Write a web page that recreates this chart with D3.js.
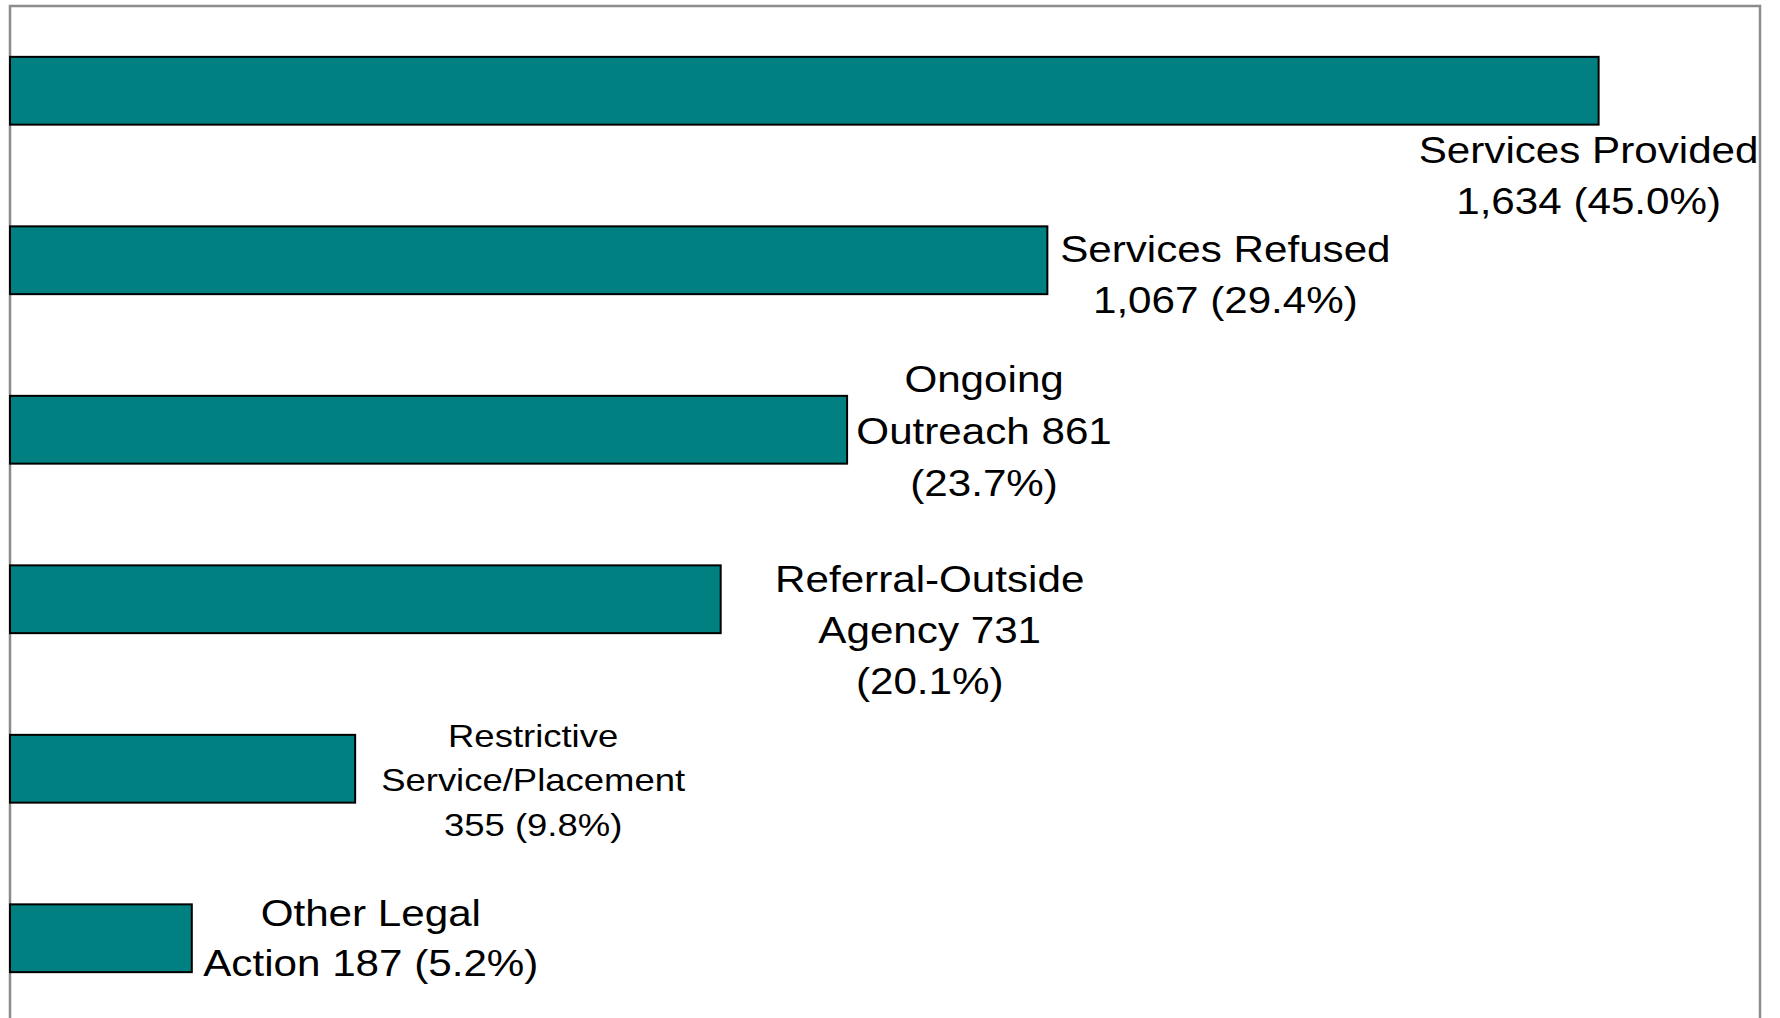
<!DOCTYPE html>
<html>
<head>
<meta charset="utf-8">
<script src="https://cdn.jsdelivr.net/npm/d3@7"></script>
<style>
  html, body { margin: 0; padding: 0; background: #fff; }
  svg { display: block; }
</style>
</head>
<body>
<div id="chart"></div>
<script>
// data
var categories = ['Services Provided', 'Services Refused', 'Ongoing Outreach', 'Referral-Outside Agency', 'Restrictive Service/Placement', 'Other Legal Action'];
var values = [1634, 1067, 861, 731, 355, 187];
var labelLines = [
  ['Services Provided', '1,634 (45.0%)'],
  ['Services Refused', '1,067 (29.4%)'],
  ['Ongoing', 'Outreach 861', '(23.7%)'],
  ['Referral-Outside', 'Agency 731', '(20.1%)'],
  ['Restrictive', 'Service/Placement', '355 (9.8%)'],
  ['Other Legal', 'Action 187 (5.2%)']
];

// label placement (center x from bar end, first baseline from bar middle)
var labelLayout = [
  {dx: -10, dy: 72, size: 37, lh: 51},
  {dx: 178, dy: 2, size: 37, lh: 51},
  {dx: 137, dy: -38, size: 37, lh: 52},
  {dx: 209, dy: -7, size: 37, lh: 51},
  {dx: 178, dy: -22, size: 32, lh: 44.5},
  {dx: 179, dy: -12, size: 37, lh: 50}
];

var width = 1780, height = 1018;
var plot = {left: 10, right: 1760, top: 6, bottom: 1023};

var svg = d3.select('#chart').append('svg')
  .attr('width', width)
  .attr('height', height);

var x = d3.scaleLinear()
  .domain([0, 1800])
  .range([plot.left, plot.right]);

var y = d3.scaleBand()
  .domain(categories)
  .range([plot.top, plot.bottom])
  .paddingInner(0.6)
  .paddingOuter(0.3);

// plot area frame
svg.append('rect')
  .attr('x', plot.left)
  .attr('y', plot.top)
  .attr('width', plot.right - plot.left)
  .attr('height', plot.bottom - plot.top + 20)
  .attr('fill', 'none')
  .attr('stroke', '#8c8c8c')
  .attr('stroke-width', 2.5);

// bars
svg.append('g')
  .selectAll('rect')
  .data(values)
  .enter()
  .append('rect')
  .attr('x', x(0))
  .attr('y', function (d, i) { return y(categories[i]); })
  .attr('width', function (d) { return x(d) - x(0); })
  .attr('height', y.bandwidth())
  .attr('fill', '#008080')
  .attr('stroke', '#000')
  .attr('stroke-width', 2);

// data labels
var labels = svg.append('g')
  .selectAll('g')
  .data(values)
  .enter()
  .append('g')
  .attr('transform', function (d, i) {
    var l = labelLayout[i];
    var cx = x(d) + l.dx;
    var cy = y(categories[i]) + y.bandwidth() / 2 + l.dy;
    return 'translate(' + cx + ',' + cy + ') scale(1.14,1)';
  });

labels.each(function (d, i) {
  var l = labelLayout[i];
  d3.select(this).selectAll('text')
    .data(labelLines[i])
    .enter()
    .append('text')
    .attr('x', 0)
    .attr('y', function (t, j) { return j * l.lh; })
    .attr('text-anchor', 'middle')
    .attr('font-family', '"Liberation Sans", Arial, sans-serif')
    .attr('font-size', l.size)
    .attr('fill', '#000')
    .text(function (t) { return t; });
});
</script>
</body>
</html>
